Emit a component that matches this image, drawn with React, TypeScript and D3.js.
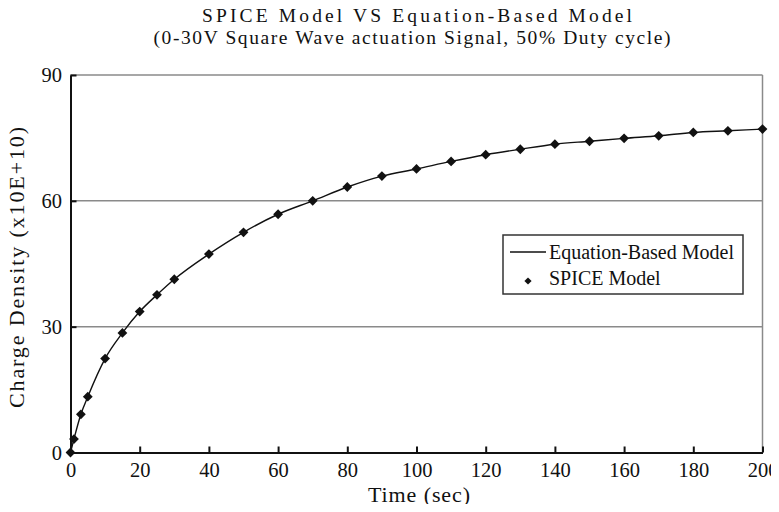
import React, {useEffect, useRef} from 'react';
import * as d3 from 'd3';

// time (sec) and charge density (x10E+10)
const spiceTime = [0, 1, 3, 5, 10, 15, 20, 25, 30, 40, 50, 60, 70, 80, 90, 100,
  110, 120, 130, 140, 150, 160, 170, 180, 190, 200];
const spiceValue = [0, 3.2, 9.1, 13.3, 22.4, 28.5, 33.6, 37.6, 41.3, 47.3, 52.5,
  56.8, 60.0, 63.3, 65.9, 67.6, 69.4, 71.0, 72.3, 73.5, 74.2, 74.9, 75.5, 76.3, 76.7, 77.1];

const eqTime = spiceTime;
const eqValue = spiceValue;

const xTicks = [0, 20, 40, 60, 80, 100, 120, 140, 160, 180, 200];
const yTicks = [0, 30, 60, 90];

const titleLines = [
  'SPICE Model VS Equation-Based Model',
  '(0-30V Square Wave actuation Signal, 50% Duty cycle)',
];

const W = 779;
const H = 512;
const FONT = '"Liberation Serif", "Times New Roman", serif';

function Chart() {
  const ref = useRef<SVGSVGElement>(null);

  useEffect(() => {
    const svg = d3.select(ref.current);
    svg.selectAll('*').remove();

    const x = d3.scaleLinear().domain([0, 200]).range([70.5, 762.5]);
    const y = d3.scaleLinear().domain([0, 90]).range([452.5, 75]);

    // grid lines
    svg.append('g')
        .selectAll('line')
        .data(yTicks.filter((d) => d > 0))
        .enter()
        .append('line')
        .attr('x1', x(0))
        .attr('x2', x(200))
        .attr('y1', (d) => y(d))
        .attr('y2', (d) => y(d))
        .attr('stroke', '#8a8a8a')
        .attr('stroke-width', 1.5);

    // right border
    svg.append('line')
        .attr('x1', x(200)).attr('x2', x(200))
        .attr('y1', y(90)).attr('y2', y(0))
        .attr('stroke', '#8a8a8a')
        .attr('stroke-width', 1.5);

    // axes
    const xAxis = d3.axisBottom(x).tickValues(xTicks).tickSizeInner(-6).tickSizeOuter(0)
        .tickPadding(10);
    const gx = svg.append('g')
        .attr('transform', `translate(0,${y(0)})`)
        .call(xAxis);
    const yAxis = d3.axisLeft(y).tickValues(yTicks).tickSizeInner(-6).tickSizeOuter(0)
        .tickPadding(8.5);
    const gy = svg.append('g')
        .attr('transform', `translate(${x(0)},0)`)
        .call(yAxis);

    [gx, gy].forEach((g) => {
      g.select('.domain').attr('stroke', '#111').attr('stroke-width', 2);
      g.selectAll('.tick line').attr('stroke', '#111').attr('stroke-width', 2);
      g.selectAll('.tick text')
          .attr('font-family', FONT)
          .attr('font-size', 20.5)
          .attr('fill', '#111');
    });

    // equation line
    const line = d3.line<number>()
        .x((d, i) => x(eqTime[i]))
        .y((d) => y(d))
        .curve(d3.curveMonotoneX);
    svg.append('path')
        .datum(eqValue)
        .attr('d', line)
        .attr('fill', 'none')
        .attr('stroke', '#111')
        .attr('stroke-width', 1.4);

    // spice markers
    const diamond = d3.symbol().type(d3.symbolSquare).size(48);
    svg.append('g')
        .selectAll('path')
        .data(spiceValue)
        .enter()
        .append('path')
        .attr('d', diamond)
        .attr('transform', (d, i) => `translate(${x(spiceTime[i])},${y(d)}) rotate(45)`)
        .attr('fill', '#111');

    // title
    const titleX = [417, 412];
    const titleLen = [430, 517];
    svg.append('g')
        .selectAll('text')
        .data(titleLines)
        .enter()
        .append('text')
        .attr('x', (d, i) => titleX[i])
        .attr('y', (d, i) => 21.7 + i * 21.8)
        .attr('text-anchor', 'middle')
        .attr('font-family', FONT)
        .attr('font-size', 19.5)
        .attr('textLength', (d, i) => titleLen[i])
        .attr('lengthAdjust', 'spacing')
        .attr('fill', '#111')
        .text((d) => d);

    // axis titles
    svg.append('text')
        .attr('x', 419)
        .attr('y', 501.5)
        .attr('text-anchor', 'middle')
        .attr('font-family', FONT)
        .attr('font-size', 22)
        .attr('textLength', 102)
        .attr('lengthAdjust', 'spacing')
        .attr('fill', '#111')
        .text('Time (sec)');

    svg.append('text')
        .attr('transform', 'translate(23.5,267.5) rotate(-90)')
        .attr('text-anchor', 'middle')
        .attr('font-family', FONT)
        .attr('font-size', 22)
        .attr('textLength', 281)
        .attr('lengthAdjust', 'spacing')
        .attr('fill', '#111')
        .text('Charge Density (x10E+10)');

    // legend
    const lg = svg.append('g').attr('transform', 'translate(503,235)');
    lg.append('rect')
        .attr('width', 240)
        .attr('height', 59)
        .attr('fill', 'white')
        .attr('stroke', '#333')
        .attr('stroke-width', 1.5);
    lg.append('line')
        .attr('x1', 7).attr('x2', 43)
        .attr('y1', 17).attr('y2', 17)
        .attr('stroke', '#111')
        .attr('stroke-width', 1.4);
    lg.append('path')
        .attr('d', d3.symbol().type(d3.symbolSquare).size(26)())
        .attr('transform', 'translate(25,46) rotate(45)')
        .attr('fill', '#111');
    lg.selectAll('text.lab')
        .data(['Equation-Based Model', 'SPICE Model'])
        .enter()
        .append('text')
        .attr('class', 'lab')
        .attr('x', 46)
        .attr('y', (d, i) => 24 + i * 26)
        .attr('font-family', FONT)
        .attr('font-size', 20)
        .attr('fill', '#111')
        .text((d) => d);
  }, []);

  return <svg ref={ref} width={W} height={H} style={{display: 'block', background: 'white'}} />;
}

export default function App() {
  return (
    <div style={{margin: -8}}>
      <Chart />
    </div>
  );
}
